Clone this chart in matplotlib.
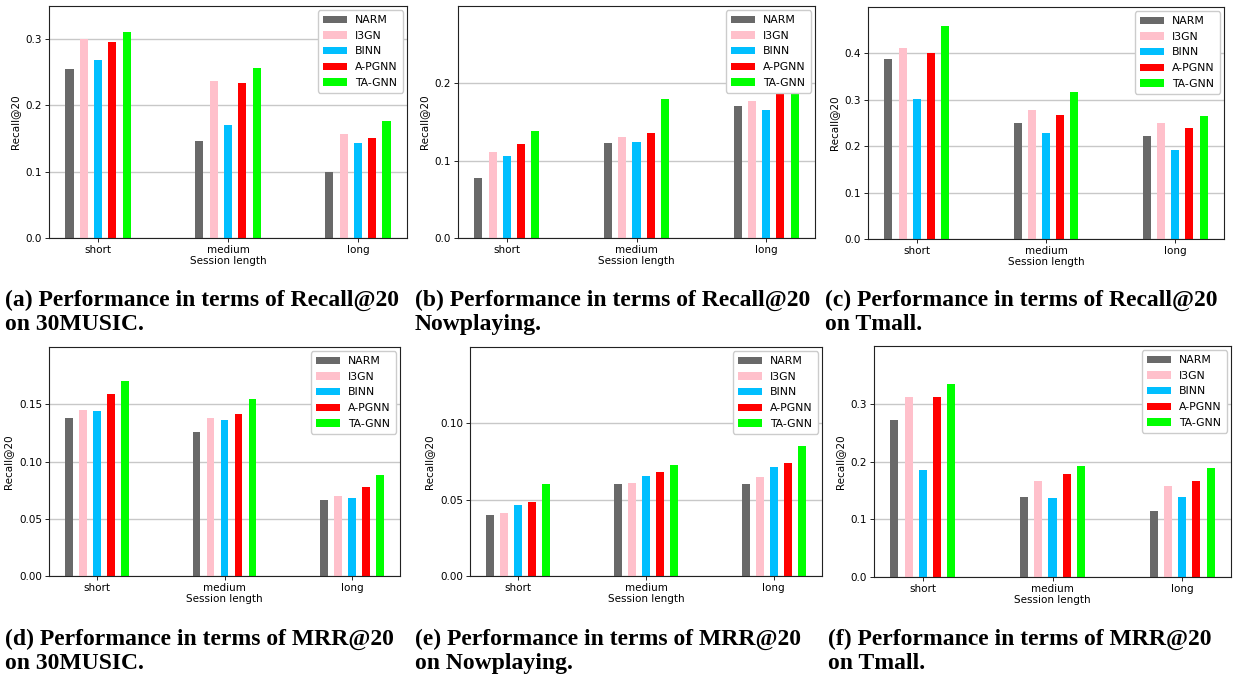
import matplotlib
matplotlib.use("Agg")
import matplotlib.pyplot as plt
import numpy as np

W, H = 1239, 679
categories = ["short", "medium", "long"]
models = ["NARM", "I3GN", "BINN", "A-PGNN", "TA-GNN"]
colors = ["#696969", "#FFC0CB", "#00BFFF", "#FF0000", "#00FF00"]

# rows = models (NARM, I3GN, BINN, A-PGNN, TA-GNN), cols = short, medium, long
recall_30music = [[0.255, 0.146, 0.100],
                  [0.300, 0.237, 0.157],
                  [0.269, 0.170, 0.143],
                  [0.296, 0.234, 0.151],
                  [0.311, 0.257, 0.176]]
recall_nowplaying = [[0.078, 0.123, 0.171],
                     [0.111, 0.130, 0.177],
                     [0.106, 0.124, 0.166],
                     [0.122, 0.136, 0.195],
                     [0.139, 0.180, 0.205]]
recall_tmall = [[0.388, 0.250, 0.222],
                [0.412, 0.278, 0.250],
                [0.302, 0.228, 0.191],
                [0.401, 0.267, 0.239],
                [0.460, 0.317, 0.265]]
mrr_30music = [[0.138, 0.126, 0.066],
               [0.145, 0.138, 0.070],
               [0.144, 0.136, 0.0685],
               [0.159, 0.1415, 0.078],
               [0.170, 0.155, 0.088]]
mrr_nowplaying = [[0.040, 0.0605, 0.060],
                  [0.0414, 0.0612, 0.065],
                  [0.0467, 0.0658, 0.0717],
                  [0.0487, 0.0684, 0.0737],
                  [0.0605, 0.073, 0.085]]
mrr_tmall = [[0.271, 0.139, 0.115],
             [0.311, 0.167, 0.158],
             [0.186, 0.136, 0.139],
             [0.311, 0.1775, 0.167],
             [0.335, 0.193, 0.188]]

yticks_a = [0.0, 0.1, 0.2, 0.3]
yticks_b = [0.0, 0.1, 0.2]
yticks_c = [0.0, 0.1, 0.2, 0.3, 0.4]
yticks_d = [0.00, 0.05, 0.10, 0.15]
yticks_e = [0.00, 0.05, 0.10]
yticks_f = [0.0, 0.1, 0.2, 0.3]

captions = ["(a) Performance in terms of Recall@20\non 30MUSIC.",
            "(b) Performance in terms of Recall@20\nNowplaying.",
            "(c) Performance in terms of Recall@20\non Tmall.",
            "(d) Performance in terms of MRR@20\non 30MUSIC.",
            "(e) Performance in terms of MRR@20\non Nowplaying.",
            "(f) Performance in terms of MRR@20\non Tmall."]

panels = [
    (recall_30music, 0.35, yticks_a, "%.1f", (49, 407, 6, 238)),
    (recall_nowplaying, 0.30, yticks_b, "%.1f", (458, 815, 6, 238)),
    (recall_tmall, 0.50, yticks_c, "%.1f", (868, 1224, 7, 239)),
    (mrr_30music, 0.20, yticks_d, "%.2f", (49, 400, 347, 576)),
    (mrr_nowplaying, 0.15, yticks_e, "%.2f", (470, 822, 347, 576)),
    (mrr_tmall, 0.40, yticks_f, "%.1f", (874, 1231, 346, 577)),
]
caption_pos = [(5, 290), (415, 290), (825, 290), (5, 629), (415, 629), (828, 629)]

fig = plt.figure(figsize=(W / 100, H / 100), dpi=100)
fs = 7.5
x = np.arange(len(categories))
for data, ytop, yt, fmt, (l, r, t, b) in panels:
    ax = fig.add_axes([l / W, 1 - b / H, (r - l) / W, (b - t) / H])
    for i, (m, c) in enumerate(zip(models, colors)):
        ax.bar(x + (i - 2) * 0.11, data[i], width=0.062, color=c, label=m, zorder=2)
    ax.set_ylim(0, ytop)
    ax.set_xlim(-0.378, 2.378)
    ax.set_yticks(yt)
    ax.set_yticklabels([fmt % v for v in yt], fontsize=fs)
    ax.set_xticks(x)
    ax.set_xticklabels(categories, fontsize=fs)
    ax.yaxis.grid(True, color="#c8c8c8", linewidth=1.0, zorder=0)
    ax.set_axisbelow(True)
    ax.set_ylabel("Recall@20", fontsize=fs)
    ax.set_xlabel("Session length", fontsize=fs, labelpad=1)
    ax.tick_params(length=3, width=0.6, pad=2)
    for s in ax.spines.values():
        s.set_linewidth(0.8)
        s.set_color("#222222")
    leg = ax.legend(loc="upper right", fontsize=7.8, framealpha=1.0,
                    handlelength=2.2, labelspacing=0.52, borderpad=0.45,
                    borderaxespad=0.4)
    leg.set_zorder(5)

for cap, (cx, cy) in zip(captions, caption_pos):
    fig.text(cx / W, 1 - cy / H, cap, ha="left", va="top",
             family="Liberation Serif", weight="bold", fontsize=17,
             linespacing=1.15)

fig.savefig("out.png", dpi=100)
